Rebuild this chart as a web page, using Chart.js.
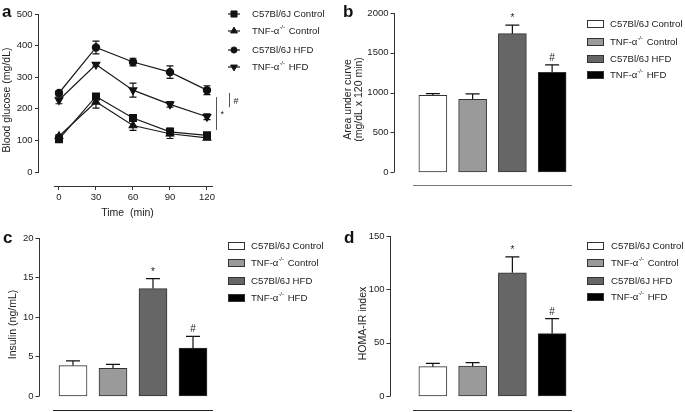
<!DOCTYPE html>
<html>
<head>
<meta charset="utf-8">
<script src="https://cdn.jsdelivr.net/npm/chart.js@4.4.1/dist/chart.umd.min.js"></script>
<style>
  html, body { margin: 0; padding: 0; background: #fff; }
  #wrap { position: relative; width: 685px; height: 412px; overflow: hidden; }
  #wrap canvas { position: absolute; }
</style>
</head>
<body>
<div id="wrap">
  <canvas id="panelA" width="340" height="220" style="left:0;top:0"></canvas>
  <canvas id="panelB" width="345" height="220" style="left:340px;top:0"></canvas>
  <canvas id="panelC" width="340" height="200" style="left:0;top:220px"></canvas>
  <canvas id="panelD" width="345" height="200" style="left:340px;top:220px"></canvas>
</div>
<script>
// --- data ---
const groups = ['C57Bl/6J Control', 'TNF-α^{-/-} Control', 'C57Bl/6J HFD', 'TNF-α^{-/-} HFD'];

const times = [0, 30, 60, 90, 120];
const timeTicks = [0, 30, 60, 90, 120];
const glucoseTicks = [0, 100, 200, 300, 400, 500];
const glucoseC57Control = [104, 239, 171, 127, 116];
const glucoseC57ControlSem = [6, 8, 9, 12, 6];
const glucoseTnfControl = [113, 222, 147, 121, 108];
const glucoseTnfControlSem = [5, 20, 15, 15, 6];
const glucoseC57Hfd = [250, 394, 348, 316, 259];
const glucoseC57HfdSem = [6, 20, 12, 20, 14];
const glucoseTnfHfd = [228, 340, 259, 214, 175];
const glucoseTnfHfdSem = [12, 5, 22, 9, 9];

const aucTicks = [0, 500, 1000, 1500, 2000];
const aucMean = [965, 915, 1740, 1255];
const aucSem = [22, 68, 108, 92];

const insulinTicks = [0, 5, 10, 15, 20];
const insulinMean = [3.85, 3.5, 13.6, 6.05];
const insulinSem = [0.6, 0.5, 1.25, 1.5];

const homaTicks = [0, 50, 100, 150];
const homaMean = [27.5, 28, 115.5, 58.5];
const homaSem = [3, 3.2, 15, 14];

const barMarks = ['', '', '*', '#'];

// --- styles ---
const FONT = "'Liberation Sans', Arial, sans-serif";
const TEXT = '#222';
const AXIS = '#333';
const barFills = ['#ffffff', '#9a9a9a', '#666666', '#000000'];

Chart.defaults.font.family = FONT;
Chart.defaults.color = TEXT;

// draws "TNF-α^{-/-} HFD" with a small raised part
function drawRich(ctx, text, x, y, size) {
  let cx = x;
  text.split(/(\^\{[^}]*\})/).forEach(p => {
    if (!p) return;
    if (p.startsWith('^{')) {
      const s = p.slice(2, -1);
      ctx.font = (size * 0.62) + 'px ' + FONT;
      ctx.fillText(s, cx, y - size * 0.35);
      cx += ctx.measureText(s).width + 1;
    } else {
      ctx.font = size + 'px ' + FONT;
      ctx.fillText(p, cx, y);
      cx += ctx.measureText(p).width;
    }
  });
}

function valueOf(d) {
  return typeof d === 'object' ? d.y : d;
}

// line chart: y axis line from 0 to top value, x axis line detached below it
const offsetFrame = {
  id: 'offsetFrame',
  afterDraw(chart, args, opts) {
    const {ctx, chartArea, scales: {x, y}} = chart;
    ctx.save();
    ctx.strokeStyle = AXIS;
    ctx.lineWidth = 1;
    ctx.beginPath();
    const lx = Math.round(chartArea.left) - 0.5;
    ctx.moveTo(lx, y.getPixelForValue(opts.yTop));
    ctx.lineTo(lx, y.getPixelForValue(0));
    const by = Math.round(chartArea.bottom) + 0.5;
    ctx.moveTo(x.getPixelForValue(opts.xFrom), by);
    ctx.lineTo(x.getPixelForValue(opts.xTo), by);
    ctx.stroke();
    ctx.restore();
  }
};

// bar charts: y axis drawn a gap left of the plot, x line under the bars
const barFrame = {
  id: 'barFrame',
  afterDraw(chart, args, opts) {
    const {ctx, chartArea, scales: {y}} = chart;
    const ax = Math.round(chartArea.left - opts.gap) - 0.5;
    ctx.save();
    ctx.strokeStyle = AXIS;
    ctx.lineWidth = 1;
    ctx.beginPath();
    ctx.moveTo(ax, y.getPixelForValue(opts.yTop));
    ctx.lineTo(ax, y.getPixelForValue(0));
    y.ticks.forEach(t => {
      const py = Math.round(y.getPixelForValue(t.value)) + 0.5;
      ctx.moveTo(ax - 4, py);
      ctx.lineTo(ax, py);
    });
    ctx.stroke();
    ctx.strokeStyle = opts.baseColor;
    ctx.beginPath();
    const by = Math.round(chartArea.bottom) - 0.5;
    ctx.moveTo(chartArea.left, by);
    ctx.lineTo(chartArea.right, by);
    ctx.stroke();
    ctx.restore();
  }
};

const errorBars = {
  id: 'errorBars',
  afterDatasetsDraw(chart, args, opts) {
    const ctx = chart.ctx, yScale = chart.scales.y;
    ctx.save();
    ctx.strokeStyle = '#111';
    ctx.lineWidth = 1.2;
    chart.data.datasets.forEach((ds, di) => {
      if (!ds.sem) return;
      chart.getDatasetMeta(di).data.forEach((el, i) => {
        const v = valueOf(ds.data[i]), e = ds.sem[i];
        const yTop = yScale.getPixelForValue(v + e);
        const yBot = yScale.getPixelForValue(opts.upOnly ? v : v - e);
        ctx.beginPath();
        ctx.moveTo(el.x, yTop); ctx.lineTo(el.x, yBot);
        ctx.moveTo(el.x - opts.cap, yTop); ctx.lineTo(el.x + opts.cap, yTop);
        if (!opts.upOnly) { ctx.moveTo(el.x - opts.cap, yBot); ctx.lineTo(el.x + opts.cap, yBot); }
        ctx.stroke();
      });
    });
    ctx.restore();
  }
};

const sideLegend = {
  id: 'sideLegend',
  afterDraw(chart, args, opts) {
    const ctx = chart.ctx;
    ctx.save();
    ctx.textBaseline = 'middle';
    opts.rows.forEach((y, i) => {
      if (opts.kind === 'line') {
        const ds = chart.data.datasets[i];
        ctx.strokeStyle = ds.borderColor;
        ctx.fillStyle = ds.pointBackgroundColor;
        ctx.lineWidth = ds.borderWidth;
        ctx.beginPath();
        ctx.moveTo(opts.x, y); ctx.lineTo(opts.x + 12, y);
        ctx.stroke();
        ctx.lineWidth = 1;
        Chart.helpers.drawPoint(ctx, {pointStyle: ds.pointStyle, rotation: ds.pointRotation || 0,
          radius: ds.pointRadius - 0.5, borderWidth: 1}, opts.x + 6, y);
      } else {
        const ds = chart.data.datasets[0];
        ctx.fillStyle = ds.backgroundColor[i];
        ctx.fillRect(opts.x, y - 3.5, 16, 7);
        ctx.strokeStyle = ds.borderColor;
        ctx.lineWidth = 1;
        ctx.strokeRect(opts.x + 0.5, y - 3.5, 16, 7);
      }
      ctx.fillStyle = TEXT;
      drawRich(ctx, chart.data.labels[i], opts.textX, y, 9.6);
    });
    ctx.restore();
  }
};

const panelLetter = {
  id: 'panelLetter',
  afterDraw(chart, args, opts) {
    const ctx = chart.ctx;
    ctx.save();
    ctx.font = 'bold 17px ' + FONT;
    ctx.fillStyle = '#111';
    ctx.textBaseline = 'alphabetic';
    ctx.fillText(opts.letter, opts.x, opts.y);
    ctx.restore();
  }
};

const barMarksPlugin = {
  id: 'barMarks',
  afterDatasetsDraw(chart, args, opts) {
    const ctx = chart.ctx, yScale = chart.scales.y;
    const ds = chart.data.datasets[0];
    ctx.save();
    ctx.font = '10px ' + FONT;
    ctx.fillStyle = TEXT;
    ctx.textAlign = 'center';
    ctx.textBaseline = 'alphabetic';
    chart.getDatasetMeta(0).data.forEach((el, i) => {
      if (!opts.marks[i]) return;
      ctx.fillText(opts.marks[i], el.x, yScale.getPixelForValue(valueOf(ds.data[i]) + ds.sem[i]) - 4);
    });
    ctx.restore();
  }
};

const brackets = {
  id: 'brackets',
  afterDraw(chart, args, opts) {
    const {ctx, scales: {x, y}} = chart;
    ctx.save();
    ctx.strokeStyle = '#555';
    ctx.lineWidth = 1;
    ctx.fillStyle = TEXT;
    ctx.font = '9px ' + FONT;
    ctx.textBaseline = 'middle';
    opts.items.forEach(b => {
      const px = Math.round(x.getPixelForValue(b.x)) + 0.5;
      const y1 = y.getPixelForValue(b.to), y2 = y.getPixelForValue(b.from);
      ctx.beginPath(); ctx.moveTo(px, y1); ctx.lineTo(px, y2); ctx.stroke();
      ctx.fillText(b.text, px + 4, (y1 + y2) / 2 + 1);
    });
    ctx.restore();
  }
};

function fixedTicks(list) {
  return s => { s.ticks = list.map(v => ({value: v})); };
}

const tickText = v => String(v);

// y axis of the line chart (tick marks from the library)
function yAxisLine(min, max, ticks, width, title, titlePad) {
  return {
    min: min, max: max,
    afterBuildTicks: fixedTicks(ticks),
    afterFit: s => { s.width = width; },
    border: {display: false},
    grid: {drawOnChartArea: false, drawTicks: true, tickLength: 4, color: AXIS, lineWidth: 1},
    ticks: {padding: 2.5, font: {size: 9.5}, color: TEXT, callback: tickText},
    title: {display: true, text: title, padding: {top: titlePad, bottom: 0},
      font: {size: 10.5, lineHeight: 1.1}, color: TEXT}
  };
}

// y axis of a bar chart: hidden tick length pushes labels past the gap,
// the visible axis and marks come from barFrame
function yAxisBar(min, max, ticks, width, gap, title, titlePad) {
  return {
    min: min, max: max,
    afterBuildTicks: fixedTicks(ticks),
    afterFit: s => { s.width = width; },
    border: {display: false},
    grid: {display: false, drawTicks: true, tickLength: gap + 4},
    ticks: {padding: 2.5, font: {size: 9.5}, color: TEXT, callback: tickText},
    title: {display: true, text: title, padding: {top: titlePad, bottom: 0},
      font: {size: 10.5, lineHeight: 1.1}, color: TEXT}
  };
}

function barX(height) {
  return {
    type: 'category',
    offset: true,
    afterFit: s => { s.height = height; },
    border: {display: false},
    grid: {display: false},
    ticks: {display: false}
  };
}

function lineSet(label, values, sem, style, rot) {
  return {
    label: label,
    data: times.map((t, i) => ({x: t, y: values[i]})),
    sem: sem,
    borderColor: '#1a1a1a',
    borderWidth: 1.2,
    pointStyle: style,
    pointRotation: rot,
    pointRadius: style === 'circle' ? 3.6 : (style === 'rect' ? 4.8 : 4.4),
    pointBackgroundColor: '#111',
    pointBorderColor: '#111',
    tension: 0
  };
}

function barSet(values, sem) {
  return {
    data: values,
    sem: sem,
    backgroundColor: barFills,
    borderColor: '#333',
    borderWidth: 1,
    borderSkipped: false,
    barThickness: 28
  };
}

const common = {
  responsive: false,
  animation: false,
  events: []
};

// a: glucose tolerance curve
new Chart(document.getElementById('panelA'), {
  type: 'line',
  data: {
    labels: groups,
    datasets: [
      lineSet(groups[0], glucoseC57Control, glucoseC57ControlSem, 'rect', 0),
      lineSet(groups[1], glucoseTnfControl, glucoseTnfControlSem, 'triangle', 0),
      lineSet(groups[2], glucoseC57Hfd, glucoseC57HfdSem, 'circle', 0),
      lineSet(groups[3], glucoseTnfHfd, glucoseTnfHfdSem, 'triangle', 180)
    ]
  },
  options: {
    ...common,
    layout: {padding: {left: 0, top: 14, right: 124, bottom: 0}},
    scales: {
      x: {
        type: 'linear', min: -16.2, max: 127.3,
        afterBuildTicks: fixedTicks(timeTicks),
        afterFit: s => { s.height = 34; },
        border: {display: false},
        grid: {drawOnChartArea: false, drawTicks: true, tickLength: 4, color: AXIS},
        ticks: {padding: 2, font: {size: 9.5}, color: TEXT, maxRotation: 0, callback: tickText},
        title: {display: true, text: 'Time  (min)', padding: {top: 0, bottom: 1}, font: {size: 10.5}, color: TEXT}
      },
      y: yAxisLine(-44.3, 500, glucoseTicks, 39, 'Blood glucose (mg/dL)', 1)
    },
    plugins: {
      legend: {display: false},
      tooltip: {enabled: false},
      offsetFrame: {yTop: 500, xFrom: -4.1, xTo: 124.9},
      errorBars: {cap: 3.5, upOnly: false},
      sideLegend: {kind: 'line', x: 228, textX: 252, rows: [14, 31, 50, 67]},
      panelLetter: {letter: 'a', x: 2, y: 17},
      brackets: {items: [{x: 127.5, from: 133, to: 237, text: '*'}, {x: 138, from: 205, to: 250, text: '#'}]}
    }
  },
  plugins: [offsetFrame, errorBars, sideLegend, panelLetter, brackets]
});

// b: area under curve
new Chart(document.getElementById('panelB'), {
  type: 'bar',
  data: {labels: groups, datasets: [barSet(aucMean, aucSem)]},
  options: {
    ...common,
    layout: {padding: {left: 0, top: 13, right: 113, bottom: 0}},
    scales: {
      x: barX(34),
      y: yAxisBar(-176, 2000, aucTicks, 73, 18, ['Area under curve', '(mg/dL x 120 min)'], 2.2)
    },
    plugins: {
      legend: {display: false},
      tooltip: {enabled: false},
      barFrame: {yTop: 2000, gap: 18, baseColor: '#777'},
      errorBars: {cap: 7, upOnly: true},
      barMarks: {marks: barMarks},
      sideLegend: {kind: 'bar', x: 247, textX: 270, rows: [24, 42, 59, 75]},
      panelLetter: {letter: 'b', x: 3, y: 17}
    }
  },
  plugins: [barFrame, errorBars, barMarksPlugin, sideLegend, panelLetter]
});

// c: insulin
new Chart(document.getElementById('panelC'), {
  type: 'bar',
  data: {labels: groups, datasets: [barSet(insulinMean, insulinSem)]},
  options: {
    ...common,
    layout: {padding: {left: 0, top: 18, right: 127, bottom: 0}},
    scales: {
      x: barX(9),
      y: yAxisBar(-1.9, 20, insulinTicks, 53, 13, 'Insulin (ng/mL)', 7.7)
    },
    plugins: {
      legend: {display: false},
      tooltip: {enabled: false},
      barFrame: {yTop: 20, gap: 13, baseColor: '#222'},
      errorBars: {cap: 7, upOnly: true},
      barMarks: {marks: barMarks},
      sideLegend: {kind: 'bar', x: 228, textX: 251, rows: [26, 43, 61, 78]},
      panelLetter: {letter: 'c', x: 3, y: 23}
    }
  },
  plugins: [barFrame, errorBars, barMarksPlugin, sideLegend, panelLetter]
});

// d: HOMA-IR
new Chart(document.getElementById('panelD'), {
  type: 'bar',
  data: {labels: groups, datasets: [barSet(homaMean, homaSem)]},
  options: {
    ...common,
    layout: {padding: {left: 0, top: 16, right: 113, bottom: 0}},
    scales: {
      x: barX(9),
      y: yAxisBar(-14.06, 150, homaTicks, 73, 22, 'HOMA-IR index', 17.7)
    },
    plugins: {
      legend: {display: false},
      tooltip: {enabled: false},
      barFrame: {yTop: 150, gap: 22, baseColor: '#333'},
      errorBars: {cap: 7, upOnly: true},
      barMarks: {marks: barMarks},
      sideLegend: {kind: 'bar', x: 247, textX: 271, rows: [26, 43, 61, 77]},
      panelLetter: {letter: 'd', x: 4, y: 23}
    }
  },
  plugins: [barFrame, errorBars, barMarksPlugin, sideLegend, panelLetter]
});
</script>
</body>
</html>
